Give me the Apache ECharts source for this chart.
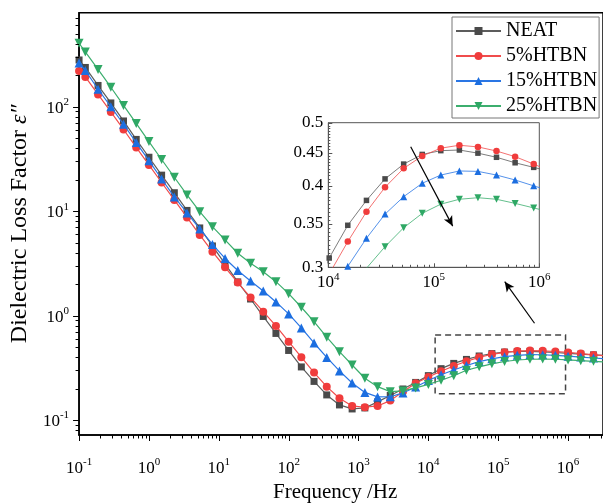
<!DOCTYPE html>
<html><head><meta charset="utf-8">
<script src="https://cdn.jsdelivr.net/npm/echarts@6/dist/echarts.min.js"></script>
<style>html,body{margin:0;padding:0;background:#fff}#c{width:603px;height:504px}</style>
</head><body><div id="c"></div>
<script>
// ---------- data ----------
const freq = [0.1, 0.123, 0.187, 0.285, 0.433, 0.658, 1, 1.52, 2.31, 3.51, 5.34, 8.11, 12.3, 18.7, 28.5, 43.3, 65.8, 100, 152, 231, 351, 534, 811, 1233, 1874, 2848, 4329, 6579, 10000, 15199, 23101, 35112, 53367, 81113, 123285, 187382, 284804, 432876, 657933, 1000000, 1519911, 2310130, 3511192];
const neat   = [280, 237.5, 159.7, 108.6, 73.0, 48.6, 32.8, 22.1, 15.0, 10.15, 6.90, 4.64, 3.12, 2.10, 1.44, 0.980, 0.674, 0.463, 0.322, 0.234, 0.1737, 0.1393, 0.1275, 0.1304, 0.1489, 0.1718, 0.198, 0.2288, 0.2658, 0.31, 0.348, 0.380, 0.410, 0.432, 0.447, 0.453, 0.454, 0.449, 0.4425, 0.434, 0.427, 0.42, 0.413];
const htbn5  = [219.9, 192.7, 131.0, 89.0, 60.5, 40.7, 27.7, 18.8, 12.8, 8.70, 5.91, 4.09, 2.90, 2.07, 1.49, 1.09, 0.795, 0.562, 0.399, 0.284, 0.2085, 0.1615, 0.1362, 0.1324, 0.1362, 0.1532, 0.1867, 0.2247, 0.2582, 0.293, 0.3285, 0.365, 0.398, 0.4255, 0.4445, 0.457, 0.4617, 0.459, 0.4524, 0.4435, 0.432, 0.42, 0.41];
const htbn15 = [262.3, 222, 146.9, 100.1, 67.9, 45.3, 30.4, 20.3, 13.67, 9.60, 6.75, 4.80, 3.52, 2.70, 2.14, 1.72, 1.35, 1.036, 0.761, 0.546, 0.397, 0.295, 0.226, 0.1835, 0.1662, 0.1668, 0.1815, 0.2071, 0.239, 0.271, 0.301, 0.3324, 0.362, 0.385, 0.4037, 0.4156, 0.4216, 0.421, 0.4156, 0.4084, 0.40, 0.392, 0.385];
const htbn25 = [405, 334.4, 227.3, 153.6, 102.8, 69.1, 46.3, 31.2, 21.1, 14.3, 9.88, 7.10, 5.30, 3.95, 3.17, 2.63, 2.11, 1.62, 1.20, 0.874, 0.620, 0.451, 0.336, 0.251, 0.2085, 0.1867, 0.1897, 0.2026, 0.219, 0.24, 0.265, 0.299, 0.3227, 0.345, 0.363, 0.375, 0.3815, 0.3836, 0.3815, 0.376, 0.370, 0.364, 0.358];
// inset: frequencies (same points as freq index 28..42)
const insetFreq = [6800, 10200, 15300, 23000, 34500, 51800, 77700, 116500, 174800, 262000, 393000, 590000, 885000, 1330000, 1990000];
const insetStart = 28;
const seriesNames = ['NEAT', '5%HTBN', '15%HTBN', '25%HTBN'];
const mainXDecades = [-1, 0, 1, 2, 3, 4, 5, 6];
const mainYDecades = [-2, -1, 0, 1, 2];
const insetXDecades = [4, 5, 6];
const insetYLabels = ['0.3', '0.35', '0.4', '0.45', '0.5'];
const minorMult = [2, 3, 4, 5, 6, 7, 8, 9];

// ---------- styling ----------
const FONT = 'Liberation Serif';
const markColors = ['#4a4a4a', '#f03c3c', '#1c6ee0', '#2fa865'];
const lineColors = ['#5c5c5c', '#f04c4c', '#2a76e4', '#3cae6e'];
const symbols = ['rect', 'circle', 'triangle', 'triangle'];
const symRot = [0, 0, 0, 180];
const mainSize = [7, 8, 9, 9];
const insetSize = [5.5, 6.5, 7, 7];
const mainData = [neat, htbn5, htbn15, htbn25];

const X_MIN = 0.1, X_MAX = Math.pow(10, 6.5);
const Y_MIN = Math.pow(10, -1.144), Y_MAX = Math.pow(10, 2.9);
const IX_MIN = 1e4, IX_MAX = 1e6, IY_MIN = 0.3, IY_MAX = 0.5;

// annotation positions (data units)
const boxCorners = [[1.25e4, 0.652], [9.2e5, 0.178]];
const mainArrow = [[3.31e5, 0.844], [1.24e5, 2.11]];
const insetArrow = [[6.04e4, 0.4592], [1.51e5, 0.347]];

function powLabel(v) {
  const e = Math.log10(v); const r = Math.round(e);
  if (Math.abs(e - r) > 1e-6) return '';
  return '{b|10}{s|' + r + '}';
}
const powRich = {
  b: { fontFamily: FONT, fontSize: 17, color: '#000', lineHeight: 20, verticalAlign: 'bottom' },
  s: { fontFamily: FONT, fontSize: 11, color: '#000', lineHeight: 11, verticalAlign: 'top' }
};

function mainTicks(params, api) {
  const ch = [];
  const o = api.coord([X_MIN, Y_MIN]);
  mainXDecades.forEach(function (d) {
    [1].concat(minorMult).forEach(function (m) {
      const v = m * Math.pow(10, d);
      if (v < X_MIN - 1e-12 || v > X_MAX) return;
      const x = Math.round(api.coord([v, Y_MIN])[0]) + 0.5;
      const len = m === 1 ? 6 : 3.5;
      ch.push({ type: 'line', shape: { x1: x, y1: o[1], x2: x, y2: o[1] + len }, style: { stroke: '#000', lineWidth: 1 } });
    });
  });
  mainYDecades.forEach(function (d) {
    [1].concat(minorMult).forEach(function (m) {
      const v = m * Math.pow(10, d);
      if (v < Y_MIN || v > Y_MAX) return;
      const y = Math.round(api.coord([X_MIN, v])[1]) + 0.5;
      const len = m === 1 ? 6 : 3.5;
      ch.push({ type: 'line', shape: { x1: o[0], y1: y, x2: o[0] - len, y2: y }, style: { stroke: '#000', lineWidth: 1 } });
    });
  });
  return { type: 'group', children: ch };
}

function insetTicks(params, api) {
  const ch = [];
  const o = api.coord([IX_MIN, IY_MIN]);
  insetXDecades.forEach(function (d) {
    [1].concat(minorMult).forEach(function (m) {
      const v = m * Math.pow(10, d);
      if (v > IX_MAX) return;
      const x = Math.round(api.coord([v, IY_MIN])[0]) + 0.5;
      const len = m === 1 ? 4 : 2.5;
      ch.push({ type: 'line', shape: { x1: x, y1: o[1], x2: x, y2: o[1] - len }, style: { stroke: '#555', lineWidth: 1 } });
    });
  });
  for (let i = 0; i <= 40; i++) {
    const v = IY_MIN + i * 0.005;
    const y = Math.round(api.coord([IX_MIN, v])[1]) + 0.5;
    const len = (i % 10 === 0) ? 4 : 2;
    ch.push({ type: 'line', shape: { x1: o[0], y1: y, x2: o[0] + len, y2: y }, style: { stroke: '#555', lineWidth: 1 } });
  }
  insetYLabels.forEach(function (t) {
    const p = api.coord([IX_MIN, parseFloat(t)]);
    ch.push({ type: 'text', x: p[0] - 5, y: p[1], style: { text: t, fill: '#000', fontFamily: FONT, fontSize: 17, align: 'right', verticalAlign: 'middle' } });
  });
  return { type: 'group', children: ch };
}

const series = [];
mainData.forEach(function (arr, i) {
  const s = {
    name: seriesNames[i], type: 'line', xAxisIndex: 0, yAxisIndex: 0,
    data: freq.map(function (f, j) { return [f, arr[j]]; }),
    symbol: symbols[i], symbolRotate: symRot[i], symbolSize: mainSize[i],
    showAllSymbol: true, clip: true, z: 3 + i,
    lineStyle: { color: lineColors[i], width: 1.2 },
    itemStyle: { color: markColors[i] }
  };
  if (i === 0) {
    s.markArea = {
      silent: true, label: { show: false },
      itemStyle: { color: 'rgba(0,0,0,0)', borderColor: '#444', borderWidth: 1.5, borderType: [6, 4] },
      data: [[{ coord: boxCorners[0] }, { coord: boxCorners[1] }]]
    };
    s.markLine = {
      silent: true, label: { show: false }, animation: false,
      lineStyle: { color: '#000', width: 1.2, type: 'solid' },
      data: [[{ coord: mainArrow[0], symbol: 'none' }, { coord: mainArrow[1], symbol: 'arrow', symbolSize: [7, 10] }]]
    };
  }
  series.push(s);
});
mainData.forEach(function (arr, i) {
  const s = {
    name: seriesNames[i], type: 'line', xAxisIndex: 1, yAxisIndex: 1,
    data: insetFreq.map(function (f, j) { return [f, arr[insetStart + j]]; }),
    symbol: symbols[i], symbolRotate: symRot[i], symbolSize: insetSize[i],
    showAllSymbol: true, clip: true, z: 13 + i,
    lineStyle: { color: lineColors[i], width: 0.8 },
    itemStyle: { color: markColors[i] }
  };
  if (i === 0) {
    s.markLine = {
      silent: true, label: { show: false }, animation: false, z: 25,
      lineStyle: { color: '#000', width: 1.2, type: 'solid' },
      data: [[{ coord: insetArrow[0], symbol: 'none' }, { coord: insetArrow[1], symbol: 'arrow', symbolSize: [7, 10] }]]
    };
  }
  series.push(s);
});
series.push({ type: 'custom', coordinateSystem: 'cartesian2d', xAxisIndex: 0, yAxisIndex: 0, data: [[1, 1]], renderItem: mainTicks, silent: true, z: 20 });
series.push({ type: 'custom', coordinateSystem: 'cartesian2d', xAxisIndex: 1, yAxisIndex: 1, data: [[1e5, 0.4]], renderItem: insetTicks, silent: true, z: 20 });

const chart = echarts.init(document.getElementById('c'), null, { renderer: 'canvas' });
chart.setOption({
  animation: false,
  backgroundColor: '#fff',
  title: [{ text: 'Frequency /Hz', left: 268, top: 477, textStyle: { fontFamily: FONT, fontSize: 21, fontWeight: 'normal', color: '#000' } }],
  legend: {
    data: seriesNames, orient: 'vertical', left: 452, top: 17,
    itemWidth: 45, itemHeight: 10, itemGap: 5, padding: [4, 2, 2, 3],
    borderColor: '#777', borderWidth: 1, backgroundColor: '#fff',
    textStyle: { fontFamily: FONT, fontSize: 20, color: '#000', lineHeight: 20 },
    selectedMode: false, z: 30
  },
  grid: [
    { left: 79, top: 12.7, width: 528.75, height: 422.3, show: true, borderColor: '#000', borderWidth: 1.5, backgroundColor: 'transparent' },
    { left: 328.3, top: 122.7, width: 211, height: 144.6, show: true, borderColor: '#555', borderWidth: 1, backgroundColor: '#fff', z: 10 }
  ],
  xAxis: [
    { type: 'log', gridIndex: 0, min: X_MIN, max: X_MAX, logBase: 10,
      axisLine: { show: true, lineStyle: { color: '#000', width: 1.5 } }, axisTick: { show: false }, splitLine: { show: false },
      axisLabel: { formatter: powLabel, rich: powRich, margin: 22, showMaxLabel: false } },
    { type: 'log', gridIndex: 1, min: IX_MIN, max: IX_MAX, logBase: 10, z: 12,
      axisLine: { show: true, lineStyle: { color: '#555', width: 1 } }, axisTick: { show: false }, splitLine: { show: false },
      axisLabel: { formatter: powLabel, rich: powRich, margin: 4 } }
  ],
  yAxis: [
    { type: 'log', gridIndex: 0, min: Y_MIN, max: Y_MAX, logBase: 10,
      name: 'Dielectric Loss Factor {i|ε″}', nameLocation: 'middle', nameGap: 45,
      nameTextStyle: { fontFamily: FONT, fontSize: 24, color: '#000', rich: { i: { fontFamily: FONT, fontSize: 24, fontStyle: 'italic', color: '#000' } } },
      axisLine: { show: true, lineStyle: { color: '#000', width: 1.5 } }, axisTick: { show: false }, splitLine: { show: false },
      axisLabel: { formatter: powLabel, rich: powRich, margin: 10, showMinLabel: false, showMaxLabel: false } },
    { type: 'log', gridIndex: 1, min: IY_MIN, max: IY_MAX, logBase: 10, z: 12,
      axisLine: { show: true, lineStyle: { color: '#555', width: 1 } }, axisTick: { show: false }, splitLine: { show: false },
      axisLabel: { show: false } }
  ],
  series: series
});
</script>
</body></html>
